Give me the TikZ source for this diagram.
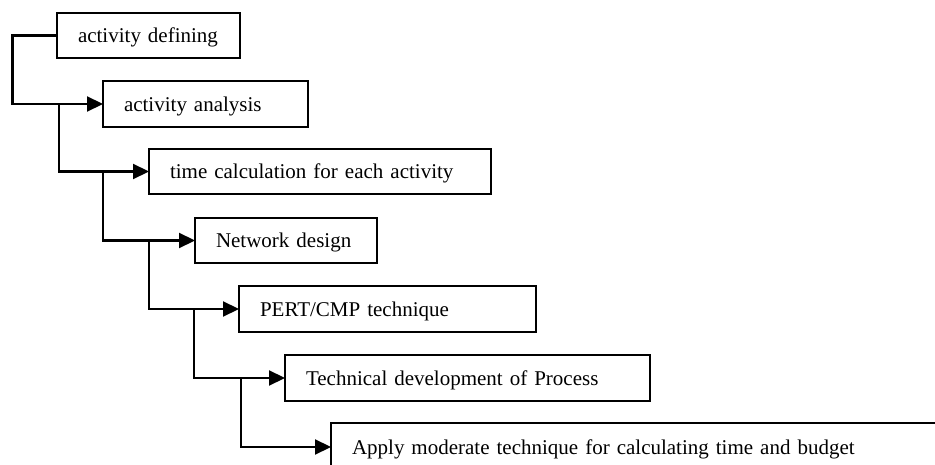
\documentclass[tikz,border=0pt]{standalone}
\usepackage{fontspec}
\setmainfont{Liberation Serif}
\usetikzlibrary{arrows.meta}
\newcommand{\boxstrut}{\rule[-7pt]{0pt}{29pt}}
\tikzset{
  stepbox/.style={draw, line width=1.8pt, anchor=north west, align=left,
    inner xsep=21pt, inner ysep=0pt, outer sep=0pt,
    font=\fontsize{21}{24}\selectfont},
  conn/.style={line width=2.2pt, -{Triangle[length=16pt,width=15pt]}}
}
\begin{document}
\begin{tikzpicture}[x=1pt,y=-1pt]
\useasboundingbox (0,0) rectangle (935,465);
\clip (0,0) rectangle (935,465);
\node[stepbox, text width=141pt, minimum height=45pt] (b1) at (57,13) {\boxstrut activity defining};
\node[stepbox, text width=163pt, minimum height=46pt] (b2) at (103,81) {\boxstrut activity analysis};
\node[stepbox, text width=300pt, minimum height=45pt] (b3) at (149,149) {\boxstrut time calculation for each activity};
\node[stepbox, text width=140pt, minimum height=45pt] (b4) at (195,218) {\boxstrut Network design};
\node[stepbox, text width=255pt, minimum height=46pt] (b5) at (239,286) {\boxstrut PERT/CMP technique};
\node[stepbox, text width=323pt, minimum height=46pt] (b6) at (285,355) {\boxstrut Technical development of Process};
\node[stepbox, text width=658pt, minimum height=48pt] (b7) at (331,423) {\boxstrut Apply moderate technique for calculating time and budget};
\path (b1.west) ++(-44.5,0) coordinate (t1);
\path (b2.west) ++(-44,0) coordinate (t2);
\path (b3.west) ++(-46,0) coordinate (t3);
\path (b4.west) ++(-46,0) coordinate (t4);
\path (b5.west) ++(-45,0) coordinate (t5);
\path (b6.west) ++(-44,0) coordinate (t6);
\draw[conn] (b1.west) -- (t1) |- (b2.west);
\draw[conn] (t2) |- (b3.west);
\draw[conn] (t3) |- (b4.west);
\draw[conn] (t4) |- (b5.west);
\draw[conn] (t5) |- (b6.west);
\draw[conn] (t6) |- (b7.west);
\end{tikzpicture}
\end{document}
